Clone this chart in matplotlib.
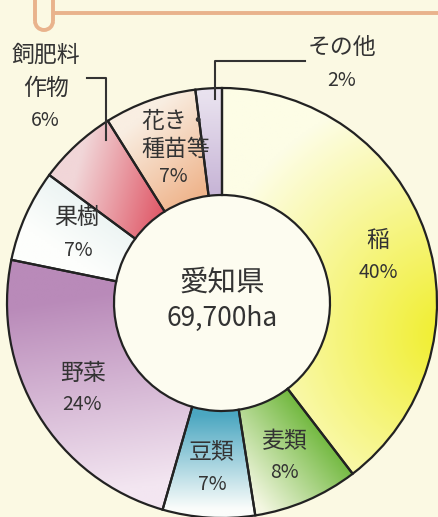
import numpy as np
import matplotlib
matplotlib.use("Agg")
import matplotlib.pyplot as plt
from matplotlib.patches import Circle, Arc
from matplotlib.colors import to_rgb

plt.rcParams['font.family'] = ['Noto Sans CJK JP', 'DejaVu Sans']

# ---- data ----
categories = ['稲', '麦類', '豆類', '野菜', '果樹', '飼肥料\n作物', '花き・\n種苗等', 'その他']
shares = [40, 8, 7, 24, 7, 6, 7, 2]
pct_labels = ['40%', '8%', '7%', '24%', '7%', '6%', '7%', '2%']
center_title = '愛知県'
center_total = '69,700ha'

# ---- styling ----
W, H = 438, 517
# (mode, pale, saturated, a, b): linear -> a=pale point, b=saturated point (px)
#                                 radial -> a=focus point, b=radius
grad = [
    ('radial', '#fdfde6', '#f0ee28', (452, 335), 250),            # 稲
    ('linear', '#f4f7e2', '#68b433', (250, 495), (330, 430)),     # 麦類
    ('linear', '#fbfdfb', '#4ba7c1', (215, 510), (215, 415)),     # 豆類
    ('linear', '#f3e6f1', '#b98ab9', (90, 495), (60, 300)),       # 野菜
    ('linear', '#fdfefc', '#e2eeee', (60, 250), (110, 175)),      # 果樹
    ('linear', '#f1d6d8', '#e05a69', (75, 175), (165, 200)),      # 飼肥料作物
    ('linear', '#f9eee2', '#efb58d', (150, 110), (210, 185)),     # 花き・種苗等
    ('linear', '#e9e2ef', '#c8b6d7', (212, 95), (212, 190)),      # その他
]
bg = '#fbf9e3'
cx, cy_px, R, r_in = 222, 303, 215, 108
cy = H - cy_px

fig = plt.figure(figsize=(W / 100, H / 100), dpi=100, facecolor=bg)
ax = fig.add_axes([0, 0, 1, 1])
ax.set_facecolor(bg)

wedges, _ = ax.pie(shares, startangle=90, counterclock=False, radius=R,
                   center=(cx, cy), normalize=True,
                   wedgeprops=dict(width=R - r_in, edgecolor='#222222',
                                   linewidth=1.6, facecolor='none'))

xs = np.linspace(0, W, 220)
ys = np.linspace(0, H, 260)
XX, YY = np.meshgrid(xs, ys)
for w, (mode, c0, c1, a, b) in zip(wedges, grad):
    if mode == 'linear':
        p0d = np.array([a[0], H - a[1]], float)
        p1d = np.array([b[0], H - b[1]], float)
        d = p1d - p0d
        t = ((XX - p0d[0]) * d[0] + (YY - p0d[1]) * d[1]) / (d @ d)
    else:
        fx, fy = a[0], H - a[1]
        t = 1 - np.hypot(XX - fx, YY - fy) / b
    t = np.clip(t, 0, 1)[..., None]
    img = np.array(to_rgb(c0)) * (1 - t) + np.array(to_rgb(c1)) * t
    im = ax.imshow(img, extent=(0, W, 0, H), origin='lower', zorder=1,
                   interpolation='bilinear', aspect='auto')
    im.set_clip_path(w)
    w.set_zorder(3)

ax.add_patch(Circle((cx, cy), r_in, facecolor='#fdfcf0', edgecolor='none', zorder=2))

ax.set_xlim(0, W)
ax.set_ylim(0, H)
ax.set_aspect('auto')
ax.axis('off')

txt = '#333333'
def T(x, y, s, size, **kw):
    ax.text(x, H - y, s, ha='center', va='center', fontsize=size, color=txt,
            zorder=5, **kw)

# label positions (px): first-line centre, line step
lab_pos = [(378, 240, 0), (285, 442, 0), (212, 452, 0), (83, 373, 0), (77, 218, 0),
           (46, 55, 33), (176, 121, 28), (342, 47, 0)]
pct_pos = [(378, 273), (284, 473), (212, 485), (82, 405), (78, 250), (45, 120), (173, 177), (342, 80)]
for s, p, (lx, ly, step), (px, py) in zip(categories, pct_labels, lab_pos, pct_pos):
    for i, line in enumerate(s.split('\n')):
        T(lx, ly + i * step, line, 16.5)
    T(px, py, p, 14)

T(cx, 283, center_title, 20.5)
T(cx, 318, center_total, 19)

# leader lines
lc = '#333333'
ax.plot([305, 215, 215], [H - 61, H - 61, H - 99], color=lc, lw=1.5, zorder=6)
ax.plot([87, 106, 106], [H - 78, H - 78, H - 140], color=lc, lw=1.5, zorder=6)

# orange header tab
oc = '#e9b38c'
ax.plot([35, 35], [H, H - 21], color=oc, lw=2.8, solid_capstyle='butt', zorder=6)
ax.plot([53, 53], [H, H - 21], color=oc, lw=2.8, solid_capstyle='butt', zorder=6)
ax.add_patch(Arc((44, H - 21), 18, 18, theta1=180, theta2=360, color=oc, lw=2.8, zorder=6))
ax.plot([53, W], [H - 13, H - 13], color=oc, lw=2.8, solid_capstyle='butt', zorder=6)

fig.savefig('out.png', dpi=100, facecolor=bg)
